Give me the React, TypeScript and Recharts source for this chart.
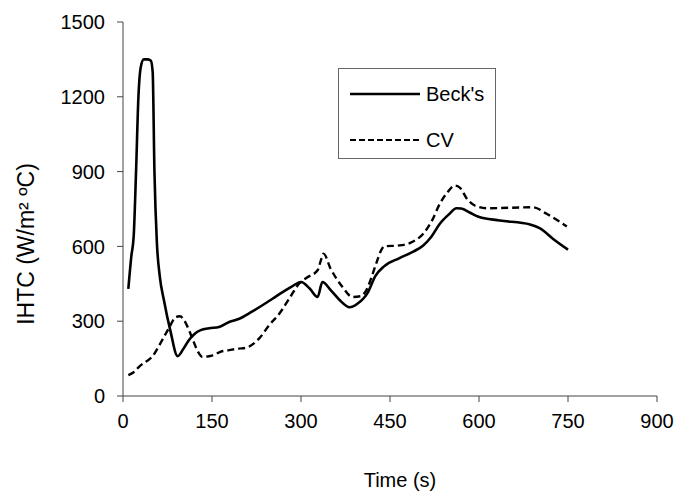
import { LineChart, Line, XAxis, YAxis, Label } from "recharts";

// time (s) and IHTC (W/m2 C)
const becksTime = [9, 14, 18, 22, 26, 30, 35, 42, 47, 50, 53, 57, 62, 69, 80, 92, 102, 111, 121, 131, 145, 162, 179, 196, 215, 235, 252, 269, 285, 300, 315, 328, 336, 350, 365, 382, 395, 413, 425, 440, 466, 490, 506, 520, 534, 550, 562, 570, 585, 598, 635, 686, 703, 725, 750];
const becksIHTC = [430, 560, 640, 900, 1200, 1320, 1350, 1350, 1345, 1300, 900, 620, 480, 384, 260, 160, 190, 224, 250, 264, 272, 277, 297, 310, 335, 364, 390, 417, 440, 457, 430, 397, 457, 425, 385, 356, 370, 417, 480, 520, 553, 580, 604, 640, 691, 730, 753, 752, 735, 720, 704, 688, 672, 630, 587];

const cvTime = [9, 18, 27, 40, 49, 58, 66, 78, 89, 96, 103, 112, 120, 127, 134, 150, 165, 179, 195, 207, 220, 230, 245, 264, 280, 297, 310, 328, 333, 338, 350, 360, 370, 387, 400, 410, 421, 428, 435, 440, 466, 485, 506, 520, 534, 548, 559, 568, 580, 593, 613, 691, 714, 748];
const cvIHTC = [84, 95, 117, 140, 157, 190, 224, 275, 317, 320, 304, 260, 212, 175, 157, 162, 178, 184, 190, 193, 210, 232, 280, 332, 390, 451, 475, 504, 540, 571, 510, 470, 437, 397, 400, 424, 491, 540, 584, 600, 604, 615, 651, 700, 771, 820, 844, 835, 790, 764, 753, 757, 731, 680];

const xTicks = [0, 150, 300, 450, 600, 750, 900];
const yTicks = [0, 300, 600, 900, 1200, 1500];
const seriesNames = ["Beck's", "CV"];

const becksData = becksTime.map((t, i) => ({ t, v: becksIHTC[i] }));
const cvData = cvTime.map((t, i) => ({ t, v: cvIHTC[i] }));

const font = "'Liberation Sans', Arial, sans-serif";
const axisColor = "#444";

export default function App() {
  return (
    <div style={{ position: "absolute", left: 0, top: 0, width: 675, height: 492, background: "#fff", fontFamily: font }}>
      <LineChart width={675} height={492} margin={{ top: 22, right: 18, bottom: 0, left: 0 }}>
        <XAxis
          dataKey="t"
          type="number"
          domain={[0, 900]}
          ticks={xTicks}
          height={96}
          stroke={axisColor}
          tickMargin={12}
          tick={{ fill: "#000", fontSize: 20, fontFamily: font }}
        >
          <Label
            content={() => (
              <text x={400} y={487} textAnchor="middle" fontSize={20} fontFamily={font} fill="#000">
                Time (s)
              </text>
            )}
          />
        </XAxis>
        <YAxis
          type="number"
          domain={[0, 1500]}
          ticks={yTicks}
          width={123}
          stroke={axisColor}
          tickMargin={12}
          tick={{ fill: "#000", fontSize: 20, fontFamily: font }}
        >
          <Label
            content={() => (
              <text
                x={26}
                y={244}
                transform="rotate(-90 26 244)"
                textAnchor="middle"
                dominantBaseline="central"
                fontSize={23}
                fontFamily={font}
                fill="#000"
              >
                IHTC (W/m² ºC)
              </text>
            )}
          />
        </YAxis>
        <Line data={becksData} dataKey="v" name={seriesNames[0]} type="monotone" stroke="#000" strokeWidth={2.6} dot={false} isAnimationActive={false} />
        <Line data={cvData} dataKey="v" name={seriesNames[1]} type="monotone" stroke="#000" strokeWidth={2.4} strokeDasharray="7 4" dot={false} isAnimationActive={false} />
      </LineChart>
      <div style={{ position: "absolute", left: 338, top: 68, width: 156, height: 89, border: "1px solid #666", background: "#fff" }}>
        {seriesNames.map((name, i) => (
          <div key={name} style={{ position: "absolute", left: 11, top: i === 0 ? 10 : 56, height: 30, display: "flex", alignItems: "center" }}>
            <svg width={72} height={6}>
              <line x1={0} y1={3} x2={70} y2={3} stroke="#000" strokeWidth={i === 0 ? 2.6 : 2.2} strokeDasharray={i === 0 ? undefined : "6 3"} />
            </svg>
            <span style={{ fontSize: 20, marginLeft: 4, color: "#000" }}>{name}</span>
          </div>
        ))}
      </div>
    </div>
  );
}
